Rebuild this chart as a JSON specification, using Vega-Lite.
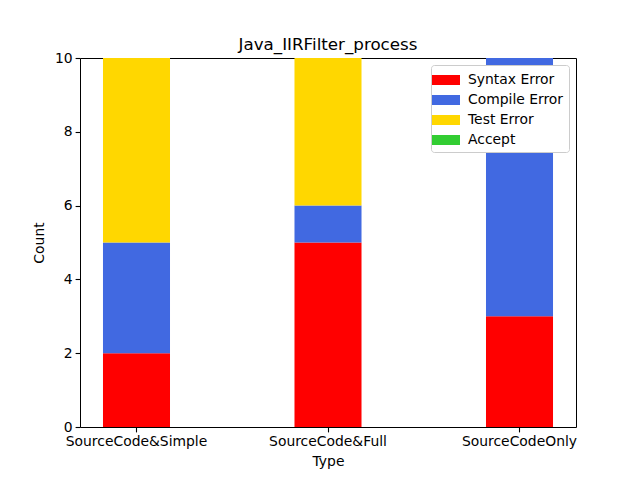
{
  "$schema": "https://vega.github.io/schema/vega-lite/v6.json",
  "autosize": "none",
  "width": 496,
  "height": 369,
  "padding": {"left": 80, "top": 58, "right": 64, "bottom": 53},
  "background": "white",
  "config": {
    "font": "DejaVu Sans",
    "view": {"stroke": "black", "strokeWidth": 1},
    "axis": {
      "labelFont": "DejaVu Sans", "titleFont": "DejaVu Sans",
      "labelFontSize": 13.9, "titleFontSize": 13.9, "titleFontWeight": "normal",
      "labelColor": "black", "titleColor": "black",
      "domain": false, "grid": false,
      "tickColor": "black", "tickSize": 4.9, "tickWidth": 1.1, "labelPadding": 3
    }
  },
  "title": {"text": "Java_IIRFilter_process", "fontSize": 16.7, "fontWeight": "normal", "font": "DejaVu Sans", "offset": -3, "color": "black"},
  "data": {"values": [
    {"Type": "SourceCode&Simple", "Result": "Syntax Error", "Count": 2, "o": 0},
    {"Type": "SourceCode&Simple", "Result": "Compile Error", "Count": 3, "o": 1},
    {"Type": "SourceCode&Simple", "Result": "Test Error", "Count": 5, "o": 2},
    {"Type": "SourceCode&Simple", "Result": "Accept", "Count": 0, "o": 3},
    {"Type": "SourceCode&Full", "Result": "Syntax Error", "Count": 5, "o": 0},
    {"Type": "SourceCode&Full", "Result": "Compile Error", "Count": 1, "o": 1},
    {"Type": "SourceCode&Full", "Result": "Test Error", "Count": 4, "o": 2},
    {"Type": "SourceCode&Full", "Result": "Accept", "Count": 0, "o": 3},
    {"Type": "SourceCodeOnly", "Result": "Syntax Error", "Count": 3, "o": 0},
    {"Type": "SourceCodeOnly", "Result": "Compile Error", "Count": 7, "o": 1},
    {"Type": "SourceCodeOnly", "Result": "Test Error", "Count": 0, "o": 2},
    {"Type": "SourceCodeOnly", "Result": "Accept", "Count": 0, "o": 3}
  ]},
  "mark": {"type": "bar"},
  "encoding": {
    "x": {
      "field": "Type", "type": "nominal",
      "sort": ["SourceCode&Simple", "SourceCode&Full", "SourceCodeOnly"],
      "scale": {"paddingInner": 0.65, "paddingOuter": 0.12},
      "axis": {"labelAngle": 0, "title": "Type", "titlePadding": 6}
    },
    "y": {
      "field": "Count", "type": "quantitative", "stack": "zero",
      "scale": {"domain": [0, 10], "nice": false},
      "axis": {"values": [0, 2, 4, 6, 8, 10], "title": "Count", "titlePadding": 8}
    },
    "color": {
      "field": "Result", "type": "nominal",
      "scale": {
        "domain": ["Syntax Error", "Compile Error", "Test Error", "Accept"],
        "range": ["#ff0000", "#4169e1", "#ffd700", "#32cd32"]
      },
      "legend": {
        "title": null, "orient": "top-right", "offset": 7,
        "symbolType": "M-1.4,-0.5H1.4V0.5H-1.4Z", "symbolSize": 400,
        "symbolStrokeWidth": 0, "symbolOpacity": 1,
        "labelFontSize": 13.9, "labelFont": "DejaVu Sans", "labelColor": "black",
        "rowPadding": 3, "labelOffset": 12,
        "fillColor": "white", "strokeColor": "#cccccc", "cornerRadius": 3,
        "padding": 5
      }
    },
    "order": {"field": "o", "type": "quantitative"}
  }
}
